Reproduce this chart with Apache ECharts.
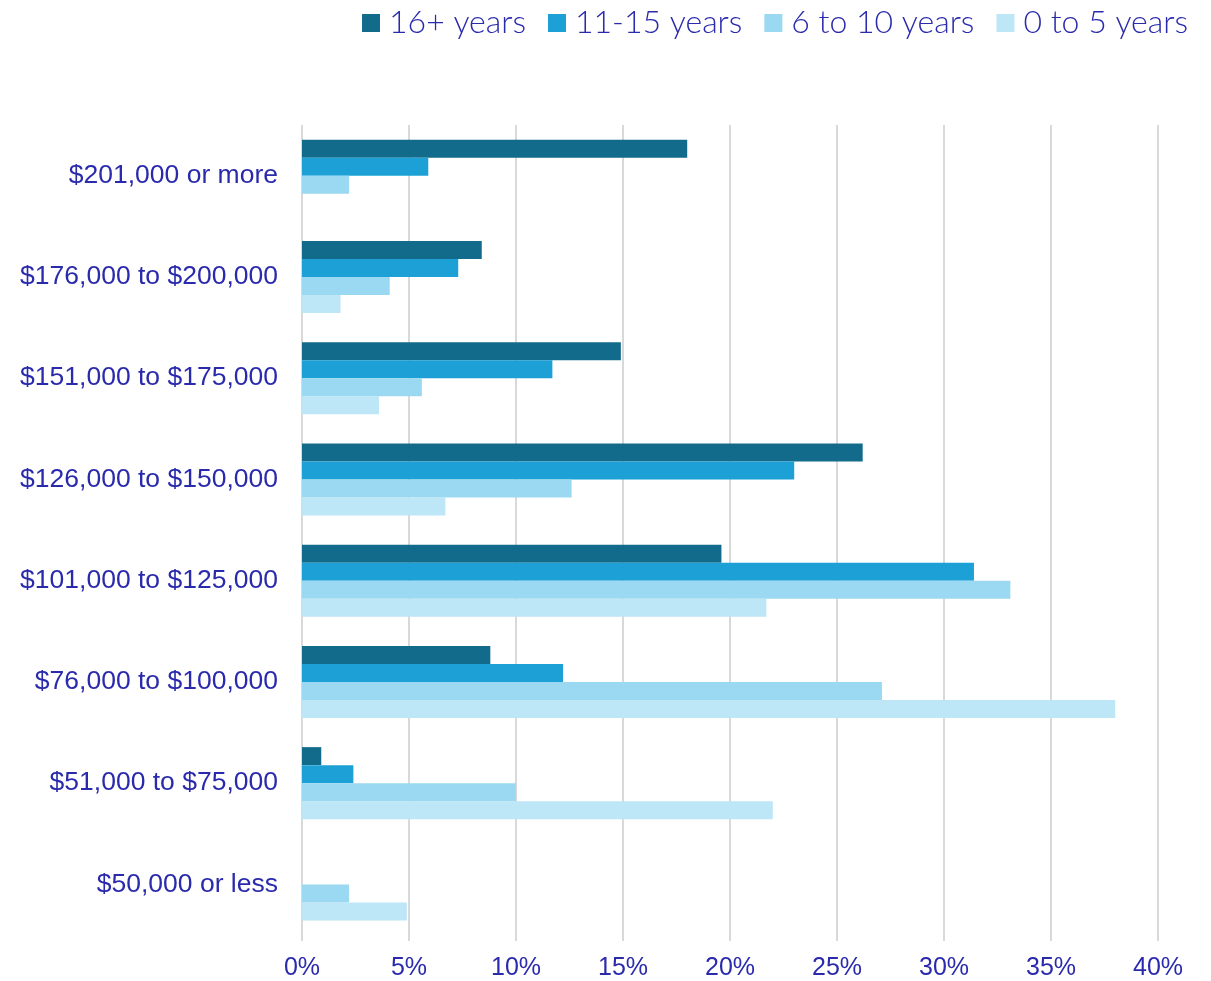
<!DOCTYPE html>
<html>
<head>
<meta charset="utf-8">
<script src="https://cdn.jsdelivr.net/npm/echarts@6/dist/echarts.min.js"></script>
<style>
  html, body { margin:0; padding:0; background:#fff; }
  #chart { width:1211px; height:981px; }
</style>
</head>
<body>
<div id="chart"></div>
<script>
// income bands, top to bottom as shown
const bands = [
  '$201,000 or more',
  '$176,000 to $200,000',
  '$151,000 to $175,000',
  '$126,000 to $150,000',
  '$101,000 to $125,000',
  '$76,000 to $100,000',
  '$51,000 to $75,000',
  '$50,000 or less'
]

const seriesNames = ['16+ years', '11-15 years', '6 to 10 years', '0 to 5 years']

// percent per band, same order as bands
const years16plus = [18.0, 8.4, 14.9, 26.2, 19.6, 8.8, 0.9, 0]
const years11to15 = [5.9, 7.3, 11.7, 23.0, 31.4, 12.2, 2.4, 0]
const years6to10  = [2.2, 4.1, 5.6, 12.6, 33.1, 27.1, 10.0, 2.2]
const years0to5   = [0, 1.8, 3.6, 6.7, 21.7, 38.0, 22.0, 4.9]

const xTicks = [0, 5, 10, 15, 20, 25, 30, 35, 40]

const colors = ['#136b8c', '#1ca0d5', '#9ad9f1', '#bde6f6']
const textColor = '#2a2aad'

const chart = echarts.init(document.getElementById('chart'))

const allData = [years16plus, years11to15, years6to10, years0to5]

chart.setOption({
  animation: false,
  color: colors,
  legend: {
    top: 2,
    right: 18,
    itemWidth: 18,
    itemHeight: 18,
    itemGap: 22,
    icon: 'rect',
    textStyle: {
      color: textColor, fontSize: 32, fontFamily: 'Lato', fontWeight: 300,
      padding: [0, 0, 0, 4]
    },
    data: seriesNames
  },
  grid: { left: 302, right: 53, top: 125, bottom: 46 },
  xAxis: {
    type: 'value',
    min: xTicks[0],
    max: xTicks[xTicks.length - 1],
    interval: 5,
    axisLine: { show: false },
    axisTick: { show: true, length: 6, lineStyle: { color: '#d9d9d9', width: 2 } },
    splitLine: { lineStyle: { color: '#d9d9d9', width: 2 } },
    axisLabel: {
      color: textColor, fontSize: 25, fontFamily: 'Liberation Sans', margin: 21,
      formatter: v => v + '%'
    }
  },
  yAxis: {
    type: 'category',
    inverse: true,
    data: bands,
    axisLine: { show: false },
    axisTick: { show: false },
    axisLabel: {
      color: textColor, fontSize: 26.5, fontFamily: 'Liberation Sans', margin: 24,
      padding: [6, 0, 0, 0]
    }
  },
  series: seriesNames.map((name, i) => ({
    name,
    type: 'bar',
    barWidth: 18,
    barGap: '0%',
    data: allData[i]
  }))
})
</script>
</body>
</html>
